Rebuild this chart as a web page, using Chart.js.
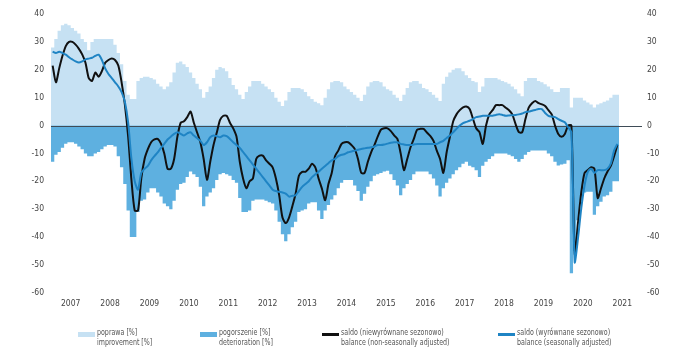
<!DOCTYPE html>
<html>
<head>
<meta charset="utf-8">
<script src="https://cdn.jsdelivr.net/npm/chart.js@4.4.1/dist/chart.umd.min.js"></script>
<style>
  html, body { margin: 0; padding: 0; background: #fff; }
  #wrap { position: relative; width: 700px; height: 350px; }
  #legend { position: absolute; left: 0; top: 328px; width: 700px; height: 22px;
    font-family: 'DejaVu Sans Condensed', sans-serif; font-size: 9px; color: #555; }
  .item { position: absolute; top: 0; line-height: 9.5px; }
  .sw { position: absolute; left: 0; width: 17px; }
  .txt { position: absolute; left: 19px; top: 0; white-space: nowrap;
    transform: scaleX(0.78); transform-origin: 0 0; }
</style>
</head>
<body>
<div id="wrap">
  <canvas id="chart" width="700" height="350"></canvas>
  <div id="legend"></div>
</div>
<script>
// monthly data, Jan 2007 .. May 2021 (one row per year)
const poprawa = [
  33, 28, 31, 34, 36, 36.5, 36, 35, 34, 33, 31, 30,
  27, 30, 31, 31, 31, 31, 31, 31, 29, 26, 22, 16,
  11, 9.5, 9.5, 16, 17, 17.5, 17.5, 17, 16.5, 15, 14, 13,
  14, 15.5, 19, 22.5, 23, 22, 21, 19, 17, 15, 13, 10,
  12, 14, 17, 20, 21, 20.5, 19.5, 17, 14.5, 13, 11, 9.5,
  12, 14, 16, 16, 16, 15, 14, 13, 12, 10, 8.5, 7,
  9, 12, 13.5, 13.5, 13.5, 13, 12, 10.5, 9.5, 8.5, 8, 7.3,
  10, 13, 15.5, 16, 16, 15.5, 14, 13, 12, 11, 10, 8.8,
  11, 14, 15.5, 16, 16, 15.5, 14, 13, 12.5, 11, 10, 8.8,
  11, 13.5, 15.5, 16, 16, 15, 13.5, 13, 12, 11, 10, 8.8,
  15, 17.5, 19, 20, 20.5, 20.5, 19.5, 18, 17, 16, 15.5, 12,
  14, 17, 17, 17, 17, 16.5, 16, 15.5, 15, 14, 13, 11.5,
  10.5, 16, 17, 17, 17, 16, 15.5, 14.8, 14, 13, 12, 12,
  13.5, 13.5, 13.5, 6.5, 10, 10, 10, 9, 8.3, 7.5, 6.5, 7.5,
  8, 8.5, 9, 10, 11
];
const pogorszenie = [
  -11, -13, -10.5, -9.5, -8, -6.5, -6, -6, -6.5, -7.5, -8.5, -10,
  -11, -11, -10, -9.5, -8.5, -7.5, -7, -7, -7.5, -11, -15, -21,
  -30.5, -40, -40, -31, -27, -26.5, -24, -22.5, -22.5, -24, -25.5, -28,
  -29, -30, -27, -23, -21, -20.5, -18.5, -16.5, -17.5, -18.5, -22, -29,
  -25.5, -24, -22.5, -19.5, -17.5, -17, -17.5, -18, -19.5, -20.5, -26, -31,
  -31, -30.5, -27, -26.5, -26.5, -26.5, -27, -27.5, -28, -30.5, -34.5, -39,
  -41.5, -39, -36.5, -34.5, -31, -30.5, -30, -28, -27.5, -27.5, -30.5, -33.5,
  -30.5, -28.5, -26.5, -25, -22.5, -20.5, -19.5, -19.5, -19.5, -21.5, -23.5, -27,
  -24.5, -22, -20, -18, -17.5, -17, -16.5, -16.2, -17.5, -19.5, -21.5, -25,
  -22.5, -21, -19.5, -17.5, -16.5, -16.5, -16.5, -16.5, -17.5, -19, -21.5, -25.5,
  -22.5, -20.5, -19, -17.5, -16, -15, -13.7, -13, -14.4, -15, -16, -18.5,
  -14.4, -13, -12, -11, -10, -10, -10, -10, -10.5, -11, -12, -13,
  -12, -10.5, -9.5, -9, -9, -9, -9, -9, -10, -11, -13, -14.3,
  -14, -13.7, -12.5, -53, -45, -34, -27, -24, -23.8, -23.8, -32, -29,
  -27.3, -25.5, -25, -23.8, -20
];
const saldoNsa = [
  21.5, 15.5, 20.5, 25, 28.5, 30, 30, 29, 27.5, 25.5, 22.5, 17,
  16, 19, 17.5, 19.5, 22.5, 23.5, 24, 23.5, 21.5, 15.5, 7.5, -4,
  -19.5, -30.5, -30.5, -19, -12, -8.5, -6, -5, -4.8, -6.5, -10, -15.5,
  -15.5, -12, -4, 1, 1.5, 3, 5, 1, -2.5, -6, -12, -19.5,
  -13, -7, -2.5, 2, 3.5, 3.5, 1, -1, -4, -13, -19, -22.5,
  -20, -19, -12, -10.8, -10.8, -12.5, -13.7, -15, -19, -25, -33, -35,
  -33, -29, -24.5, -18, -16.6, -16.6, -15.5, -13.7, -15, -19, -22.6, -26.8,
  -21, -17, -11, -9, -6.6, -6, -6, -7, -8.4, -12, -17, -17,
  -13, -9.6, -7, -4, -1.5, -1, -1, -2, -3.5, -4.8, -10, -16,
  -12, -7.8, -4.8, -1.5, -1.2, -1.2, -2.5, -3.7, -5.5, -9, -12, -17,
  -9.6, -4, 1.5, 4, 5.5, 6.5, 6.8, 5.9, 2.5, -1, -2.4, -6.6,
  0, 4, 5.5, 7.3, 7.3, 7.3, 6.4, 5.5, 4, 0.5, -2.4, -2.4,
  2.3, 6.4, 8, 8.8, 8, 7.6, 7, 5.5, 4, 0, -3, -4,
  -3, 0, 0, -46, -35, -24, -17, -16, -15, -15.5, -26, -22.6,
  -19, -16.5, -14.5, -11, -7
];
const saldoSa = [
  26.5, 26, 26.5, 26, 25.4, 24.5, 23.7, 23, 22.6, 23, 23.7, 24,
  24.3, 25, 25.4, 23.5, 20.5, 18.5, 17, 15.5, 14, 12, 8.5, 1,
  -12, -20, -23, -17, -15.5, -14.5, -12.5, -11, -9.6, -8, -6.6, -5,
  -4, -3, -2.4, -3, -3.6, -2.8, -2.4, -3.6, -4.5, -5.5, -7, -6,
  -4.2, -3.6, -3.8, -4.2, -3.6, -3.8, -4.8, -6, -7, -8, -9.5, -11,
  -12.5, -14, -15.5, -17, -18.5, -20, -21.5, -23, -23.5, -23.8, -24, -24.4,
  -25.5, -25.2, -25, -23.5, -22, -21, -20, -18.5, -17.5, -16.6, -15.5, -14.5,
  -13.5, -12.5, -12, -11, -10.5, -10.2, -9.6, -9.3, -9, -8.7, -8.4, -8.2,
  -8, -7.8, -7.5, -7, -7, -6.8, -6.5, -6.2, -6, -6, -6.6, -6.8,
  -7, -7, -6.8, -6.6, -6.6, -6.6, -6.6, -6.6, -6.6, -6.6, -6, -5.5,
  -4.5, -3.6, -2.4, -1.2, 0, 0.9, 1.3, 1.7, 2.3, 3, 3.2, 3.5,
  3.5, 3.5, 3.5, 3.8, 4, 3.8, 3.5, 3.6, 3.7, 3.8, 4, 4.3,
  4.8, 5, 5.3, 5.6, 5.9, 5.9, 4.5, 3.5, 3.2, 3, 2.3, 1.7,
  1.2, -0.6, -2.4, -49, -40.5, -29.7, -21.5, -16.6, -15.5, -17, -16, -16,
  -16, -15.5, -13.7, -9, -6.6
];
const yearLabels = ['2007', '2008', '2009', '2010', '2011', '2012', '2013', '2014',
  '2015', '2016', '2017', '2018', '2019', '2020', '2021'];
const yTicks = [40, 30, 20, 10, 0, -10, -20, -30, -40, -50, -60];

const legendItems = [
  { pl: 'poprawa [%]', en: 'improvement [%]', color: '#c6e1f3', h: 5, left: 78 },
  { pl: 'pogorszenie [%]', en: 'deterioration [%]', color: '#5eb0e0', h: 5, left: 200 },
  { pl: 'saldo (niewyrównane sezonowo)', en: 'balance (non-seasonally adjusted)', color: '#111111', h: 3, left: 322 },
  { pl: 'saldo (wyrównane sezonowo)', en: 'balance (seasonally adjusted)', color: '#1f84c4', h: 3, left: 498 }
];

const FONT = "'DejaVu Sans Condensed', sans-serif";

// stepped areas: each month spans [i, i+1)
function stepPoints(arr) {
  const pts = arr.map((v, i) => ({ x: i, y: v }));
  pts.push({ x: arr.length, y: arr[arr.length - 1] });
  return pts;
}
// lines sit in the middle of each month
function midPoints(arr) {
  return arr.map((v, i) => ({ x: i + 0.5, y: v }));
}

// zero line goes above the areas but under the two balance lines
const zeroLine = {
  id: 'zeroLine',
  beforeDatasetDraw(chart, args) {
    if (args.index !== 2) return;
    const { ctx, chartArea, scales } = chart;
    const y = Math.round(scales.y.getPixelForValue(0)) + 0.5;
    ctx.save();
    ctx.strokeStyle = '#3f4c57';
    ctx.lineWidth = 1;
    ctx.beginPath();
    ctx.moveTo(chartArea.left, y);
    ctx.lineTo(chartArea.right, y);
    ctx.stroke();
    ctx.restore();
  }
};

const yAxisBase = {
  type: 'linear',
  min: -60,
  max: 40,
  grid: { display: false, drawTicks: false },
  border: { display: false },
  afterBuildTicks(scale) { scale.ticks = yTicks.map(v => ({ value: v })); },
  ticks: { color: '#444', font: { family: FONT, size: 8.5 } }
};

new Chart(document.getElementById('chart'), {
  type: 'line',
  data: {
    datasets: [
      {
        label: 'poprawa [%]',
        data: stepPoints(poprawa),
        stepped: 'after',
        fill: 'origin',
        backgroundColor: '#c6e1f3',
        borderColor: 'rgba(0,0,0,0)',
        borderWidth: 0,
        pointRadius: 0,
        order: 4
      },
      {
        label: 'pogorszenie [%]',
        data: stepPoints(pogorszenie),
        stepped: 'after',
        fill: 'origin',
        backgroundColor: '#5eb0e0',
        borderColor: 'rgba(0,0,0,0)',
        borderWidth: 0,
        pointRadius: 0,
        order: 3
      },
      {
        label: 'saldo (niewyrównane sezonowo)',
        data: midPoints(saldoNsa),
        borderColor: '#111111',
        borderWidth: 2,
        pointRadius: 0,
        tension: 0.25,
        fill: false,
        order: 2
      },
      {
        label: 'saldo (wyrównane sezonowo)',
        data: midPoints(saldoSa),
        borderColor: '#1f84c4',
        borderWidth: 2,
        pointRadius: 0,
        tension: 0.25,
        fill: false,
        order: 1
      }
    ]
  },
  options: {
    responsive: false,
    animation: false,
    layout: { padding: { top: 14, bottom: 35, left: 0, right: 0 } },
    plugins: { legend: { display: false }, tooltip: { enabled: false } },
    scales: {
      x: {
        type: 'linear',
        min: 0,
        max: 180,
        grid: { display: false, drawTicks: false },
        border: { display: false },
        afterBuildTicks(scale) { scale.ticks = yearLabels.map((y, i) => ({ value: 6 + 12 * i })); },
        ticks: {
          color: '#444',
          padding: 6,
          maxRotation: 0,
          autoSkip: false,
          font: { family: FONT, size: 8.5 },
          callback: (v) => yearLabels[(v - 6) / 12]
        }
      },
      y: Object.assign({}, yAxisBase, {
        position: 'left',
        afterFit(scale) { scale.width = 51; },
        ticks: Object.assign({}, yAxisBase.ticks, { padding: 7 })
      }),
      y2: Object.assign({}, yAxisBase, {
        position: 'right',
        afterFit(scale) { scale.width = 58; },
        ticks: Object.assign({}, yAxisBase.ticks, { padding: 5 })
      })
    }
  },
  plugins: [zeroLine]
});

// two-line legend under the chart
const legend = document.getElementById('legend');
legendItems.forEach(it => {
  const div = document.createElement('div');
  div.className = 'item';
  div.style.left = it.left + 'px';
  div.innerHTML = '<div class="sw" style="top:' + (6 - it.h / 2) + 'px;height:' + it.h + 'px;background:' + it.color + '"></div>' +
    '<div class="txt">' + it.pl + '<br>' + it.en + '</div>';
  legend.appendChild(div);
});
</script>
</body>
</html>
